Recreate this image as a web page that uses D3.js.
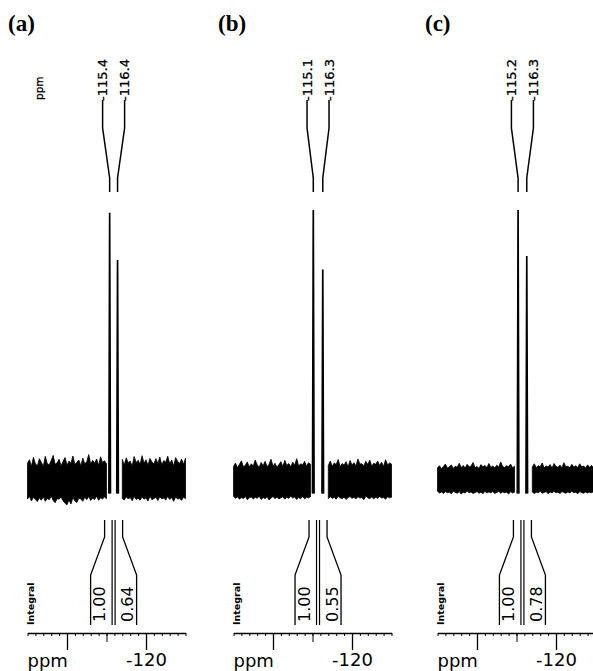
<!DOCTYPE html>
<html>
<head>
<meta charset="utf-8">
<script src="https://cdn.jsdelivr.net/npm/d3@7"></script>
<style>
  body { margin: 0; background: #fff; }
  svg { display: block; }
</style>
</head>
<body>
<svg id="chart"></svg>
<script>
// panels, peak shifts (ppm), peak heights (rel.), integrals
const panelNames = ["(a)", "(b)", "(c)"];
const peakShifts = [[-115.4, -116.4], [-115.1, -116.3], [-115.2, -116.3]];
const peakHeights = [[99, 81.5], [100, 78], [100, 83]];
const integralValues = [[1.00, 0.64], [1.00, 0.55], [1.00, 0.78]];
const axisLabels = ["ppm", "-120"];

// noise envelope above / below the baseline, -105 .. -125 ppm
const noiseTopA = [6.2, 7.5, 5.1, 8.4, 6.0, 5.3, 7.9, 6.6, 5.0, 8.8, 6.1, 5.6, 7.2, 9.1, 5.8, 6.4, 7.7, 5.2, 6.9, 8.3,
  5.5, 7.0, 6.2, 8.9, 5.7, 6.6, 7.4, 5.3, 8.1, 6.0, 6.8, 9.4, 5.9, 7.3, 6.1, 7.8, 5.4, 8.6, 6.5, 7.1,
  6.0, 5.5, 4.8, 4.0, 4.5, 5.0, 5.8, 6.3, 7.6, 5.6, 8.2, 6.3, 7.0, 5.1, 8.7, 6.4, 7.3, 5.8, 9.0, 6.2,
  7.5, 5.5, 8.0, 6.7, 5.9, 7.9, 6.1, 8.5, 5.6, 7.2, 6.6, 8.8, 6.0, 7.4, 5.2, 8.3, 6.9, 6.1, 7.7, 5.8, 8.1];
const noiseBottomA = [7.0, 6.1, 7.8, 6.4, 7.2, 8.0, 6.6, 7.5, 6.2, 7.9, 6.8, 7.3, 6.0, 7.6, 8.4, 6.9, 7.1, 6.3, 7.7, 8.6,
  9.2, 7.4, 8.9, 6.5, 7.8, 8.3, 6.7, 7.0, 7.9, 6.4, 7.3, 6.1, 7.6, 6.8, 7.2, 6.0, 7.5, 6.6, 7.0, 6.3,
  6.9, 5.5, 5.0, 4.6, 4.8, 5.2, 5.6, 6.2, 6.9, 7.4, 6.2, 7.0, 6.5, 7.7, 6.1, 7.2, 6.8, 7.5, 6.3, 7.1,
  6.6, 7.8, 6.0, 7.3, 6.9, 6.4, 7.6, 6.2, 7.0, 6.7, 7.4, 6.1, 7.2, 6.5, 7.9, 6.3, 7.0, 6.8, 7.5, 6.4, 6.9];
const noiseTopB = [5.0, 6.3, 4.6, 5.8, 7.1, 4.9, 5.5, 6.7, 4.8, 6.0, 5.2, 7.4, 5.6, 4.7, 6.5, 5.3, 6.9, 4.9, 5.8, 7.7,
  5.1, 6.2, 4.8, 5.7, 6.8, 5.0, 7.3, 5.4, 6.1, 4.9, 6.6, 5.5, 7.9, 5.2, 6.0, 5.6, 6.9, 5.1, 6.4, 5.8,
  5.0, 4.5, 4.0, 3.8, 4.2, 4.6, 5.2, 6.0, 5.4, 7.0, 5.1, 6.3, 5.7, 7.6, 5.0, 6.1, 5.5, 6.8, 4.9, 7.2,
  5.6, 6.4, 5.2, 7.8, 5.9, 6.0, 5.3, 6.9, 5.7, 7.4, 5.1, 6.2, 5.8, 7.0, 5.4, 6.6, 5.0, 7.5, 5.6, 6.3, 5.9];
const noiseBottomB = [6.0, 6.8, 6.2, 7.1, 6.5, 6.9, 6.1, 7.3, 6.6, 6.3, 7.0, 6.4, 6.8, 6.0, 7.2, 6.5, 6.9, 6.2, 7.4, 6.7,
  6.1, 6.9, 6.3, 7.0, 6.6, 6.2, 7.1, 6.4, 6.8, 6.0, 6.7, 6.3, 7.2, 6.5, 6.9, 6.1, 7.0, 6.4, 6.6, 6.2,
  6.0, 5.5, 5.0, 4.6, 4.9, 5.3, 5.8, 6.4, 6.9, 6.2, 6.8, 6.4, 7.1, 6.0, 6.6, 6.9, 6.3, 7.2, 6.5, 6.1,
  6.8, 6.4, 7.0, 6.2, 6.7, 6.5, 7.3, 6.0, 6.6, 6.9, 6.3, 7.0, 6.4, 6.8, 6.1, 6.7, 6.5, 7.1, 6.2, 6.6, 6.4];
const noiseTopC = [4.5, 5.3, 4.2, 5.0, 5.9, 4.4, 4.9, 5.6, 4.3, 5.1, 4.7, 6.2, 4.6, 5.4, 4.4, 5.8, 4.8, 5.2, 6.5, 4.5,
  5.0, 4.3, 5.7, 4.9, 5.4, 4.6, 6.1, 4.7, 5.2, 4.4, 5.5, 4.8, 6.7, 5.0, 4.6, 5.3, 4.9, 5.9, 4.5, 5.1,
  4.6, 4.2, 3.8, 3.5, 3.8, 4.2, 4.7, 5.5, 4.8, 6.0, 4.6, 5.3, 4.9, 6.3, 4.5, 5.2, 4.8, 5.7, 4.4, 6.1,
  5.0, 4.7, 5.5, 4.6, 6.4, 4.9, 5.1, 4.5, 5.8, 4.8, 5.3, 4.6, 6.0, 4.9, 5.2, 4.4, 5.6, 4.7, 5.4, 4.5, 5.0];
const noiseBottomC = [4.2, 4.8, 4.4, 5.0, 4.3, 4.7, 4.5, 5.1, 4.2, 4.6, 4.9, 4.3, 5.2, 4.5, 4.8, 4.1, 4.7, 4.4, 5.0, 4.6,
  4.3, 4.9, 4.5, 5.1, 4.2, 4.8, 4.4, 4.7, 4.3, 5.0, 4.6, 4.2, 4.9, 4.4, 4.7, 4.5, 5.2, 4.3, 4.8, 4.5,
  4.4, 4.0, 3.6, 3.3, 3.5, 3.9, 4.3, 4.8, 4.4, 5.0, 4.5, 4.7, 4.2, 4.9, 4.6, 4.3, 5.1, 4.4, 4.8, 4.2,
  4.7, 4.5, 5.0, 4.3, 4.6, 4.9, 4.4, 4.8, 4.2, 4.7, 4.5, 5.1, 4.3, 4.6, 4.9, 4.4, 4.8, 4.5, 4.7, 4.3, 4.6];

const noiseTop = [noiseTopA, noiseTopB, noiseTopC];
const noiseBottom = [noiseBottomA, noiseBottomB, noiseBottomC];

const width = 593;
const height = 671;
const panelOffsets = [0, 206, 410];
const ppmDomain = [-105, -125];

const svg = d3.select("#chart")
  .attr("width", width)
  .attr("height", height)
  .attr("font-family", "'DejaVu Sans', sans-serif");

svg.append("rect").attr("width", width).attr("height", height).attr("fill", "#fff");

const yScale = d3.scaleLinear().domain([0, 100]).range([480, 210]);

panelNames.forEach((name, i) => {
  const ox = panelOffsets[i];
  const x = d3.scaleLinear().domain(ppmDomain).range([27.5 + ox, 185.5 + ox]);
  const g = svg.append("g");
  const [p1, p2] = peakShifts[i];
  const mid = (x(p1) + x(p2)) / 2;

  // panel letter
  g.append("text")
    .attr("x", [8, 218, 425][i])
    .attr("y", 31)
    .attr("font-family", "'Liberation Serif', serif")
    .attr("font-weight", "bold")
    .attr("font-size", 23)
    .text(name);

  // noise band
  const tops = noiseTop[i];
  const bots = noiseBottom[i];
  const n = tops.length;
  const samples = tops.map((t, k) => ({
    ppm: ppmDomain[0] + (ppmDomain[1] - ppmDomain[0]) * k / (n - 1),
    top: t,
    bottom: bots[k]
  }));
  const area = d3.area()
    .defined(d => d.ppm > p1 + 0.2 || d.ppm < p2 - 0.55)
    .x(d => x(d.ppm))
    .y0(d => yScale(-d.bottom))
    .y1(d => yScale(d.top));
  g.append("path")
    .datum(samples)
    .attr("d", area)
    .attr("fill", "#000")
    .attr("stroke", "#000")
    .attr("stroke-width", 0.8);

  // peaks
  const line = d3.line().x(d => x(d[0])).y(d => yScale(d[1]));
  peakShifts[i].forEach((p, k) => {
    g.append("path")
      .attr("d", line([[p - 0.1, -5], [p, peakHeights[i][k]], [p + 0.1, -5]]))
      .attr("fill", "#000")
      .attr("stroke", "#000")
      .attr("stroke-width", 1.7);
  });

  // peak labels with leader lines
  peakShifts[i].forEach((p, k) => {
    const lx = mid + (k === 0 ? -11 : 11);
    g.append("path")
      .attr("d", d3.line()([[lx, 100], [lx, 128], [x(p), 178], [x(p), 192]]))
      .attr("fill", "none")
      .attr("stroke", "#000")
      .attr("stroke-width", 1.5);
    g.append("text")
      .attr("transform", `translate(${lx},101) rotate(-90)`)
      .attr("dy", "0.36em")
      .attr("font-size", 13)
      .attr("stroke", "#000")
      .attr("stroke-width", 0.3)
      .text(p.toFixed(1));
  });

  if (i === 0) {
    g.append("text")
      .attr("transform", "translate(40,100) rotate(-90)")
      .attr("dy", "0.3em")
      .attr("font-size", 10.5)
      .attr("stroke", "#000")
      .attr("stroke-width", 0.3)
      .text("ppm");
  }

  // integral brackets
  const bracket = s => [[mid + s * 9, 520], [mid + s * 9, 537], [mid + s * 23, 575], [mid + s * 23, 625]];
  [-1, 1].forEach(s => {
    g.append("path")
      .attr("d", d3.line()(bracket(s)))
      .attr("fill", "none").attr("stroke", "#000").attr("stroke-width", 1.3);
    g.append("line")
      .attr("x1", mid + s * 1.5).attr("x2", mid + s * 1.5)
      .attr("y1", 520).attr("y2", 625)
      .attr("stroke", "#000").attr("stroke-width", 1.2);
  });
  integralValues[i].forEach((v, k) => {
    g.append("text")
      .attr("transform", `translate(${mid + (k === 0 ? -14 : 14)},622) rotate(-90)`)
      .attr("dy", "0.36em")
      .attr("font-size", 16)
      .text(v.toFixed(2));
  });
  g.append("text")
    .attr("transform", `translate(${x(-105) + 3},625) rotate(-90)`)
    .attr("dy", "0.35em")
    .attr("font-size", 9.5)
    .attr("font-weight", "bold")
    .text("Integral");

  // axis
  const axisY = 633;
  g.append("g")
    .attr("transform", `translate(0,${axisY})`)
    .call(d3.axisBottom(x).tickValues(d3.range(-105, -125.5, -1)).tickSize(3).tickSizeOuter(0).tickFormat(""))
    .call(a => a.select(".domain").attr("stroke-width", 1.4));
  g.append("g")
    .attr("transform", `translate(0,${axisY})`)
    .call(d3.axisBottom(x).tickValues([-115]).tickSize(9).tickFormat(""))
    .call(a => a.select(".domain").remove());
  const major = g.append("g")
    .attr("transform", `translate(0,${axisY})`)
    .call(d3.axisBottom(x).tickValues([-110, -120]).tickSize(17).tickPadding(3)
      .tickFormat(d => d === -120 ? axisLabels[1] : ""))
    .call(a => a.select(".domain").remove());
  major.selectAll("line").attr("stroke-width", 1.3);
  major.selectAll("text")
    .attr("font-size", 18)
    .attr("font-family", "'DejaVu Sans', sans-serif")
    .attr("fill", "#000");
  g.append("text")
    .attr("x", x(-105))
    .attr("y", 667)
    .attr("font-size", 18)
    .text(axisLabels[0]);
});
</script>
</body>
</html>
